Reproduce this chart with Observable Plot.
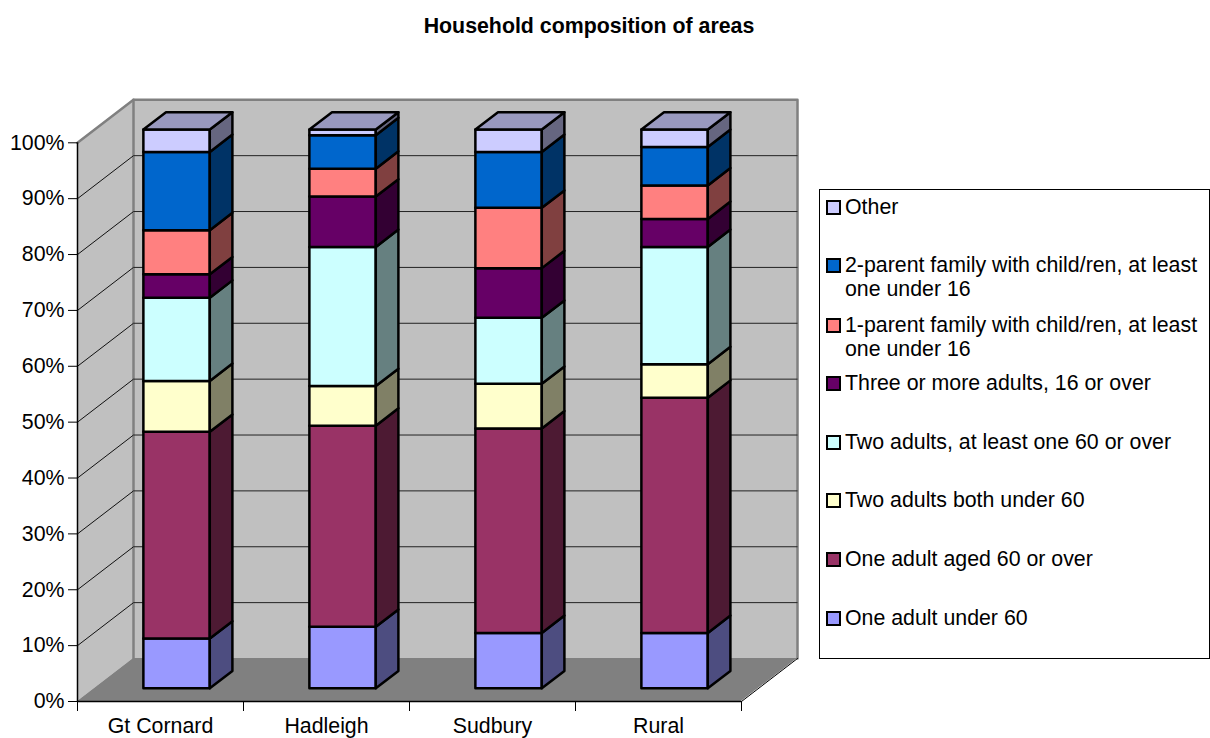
<!DOCTYPE html>
<html><head><meta charset="utf-8">
<script src="https://cdn.jsdelivr.net/npm/d3@7"></script>
<script src="https://cdn.jsdelivr.net/npm/@observablehq/plot@0.6"></script>
<style>
html,body{margin:0;padding:0;background:#fff;}
#root{position:relative;width:1210px;height:738px;overflow:hidden;font-family:"Liberation Sans",Arial,sans-serif;color:#000;}
#root svg{position:absolute;left:0;top:0;}
#title{position:absolute;z-index:2;left:0;width:1178px;top:14px;text-align:center;font-weight:bold;font-size:21.33px;line-height:24px;}
#legend{position:absolute;z-index:2;left:819px;top:189px;width:389px;height:468px;border:1px solid #000;background:#fff;}
.row{position:absolute;left:25px;font-size:21.33px;line-height:24px;width:360px;}
.sw{position:absolute;left:-19px;top:5px;width:11px;height:11px;border:2px solid #000;}
</style></head><body><div id="root"><div id="title">Household composition of areas</div></div>
<script>
const categories = ["Gt Cornard", "Hadleigh", "Sudbury", "Rural"];
const seriesNames = [
  "One adult under 60", "One adult aged 60 or over", "Two adults both under 60",
  "Two adults, at least one 60 or over", "Three or more adults, 16 or over",
  "1-parent family with child/ren, at least one under 16",
  "2-parent family with child/ren, at least one under 16", "Other"
];
const oneAdultUnder60 = [8.9, 11, 9.9, 9.9];
const oneAdult60Over = [37, 36, 36.6, 42.1];
const twoAdultsUnder60 = [9.1, 7.1, 8, 6];
const twoAdults60Over = [14.9, 24.9, 11.8, 21];
const threeOrMore = [4.2, 9, 8.9, 5];
const oneParent = [7.9, 5, 10.8, 6];
const twoParent = [14, 6, 10, 6.9];
const other = [4, 1, 4, 3.1];
const seriesValues = [oneAdultUnder60, oneAdult60Over, twoAdultsUnder60, twoAdults60Over, threeOrMore, oneParent, twoParent, other];
const frontColors = ["#9999FF", "#993366", "#FFFFCC", "#CCFFFF", "#660066", "#FF8080", "#0066CC", "#CCCCFF"];
const sideColors = ["#4D4D80", "#4D1A33", "#808066", "#668080", "#330033", "#804040", "#003366", "#666680"];
const topColor = "#9999BF";
const yTicks = [0, 10, 20, 30, 40, 50, 60, 70, 80, 90, 100];

// Oblique projection: depth d (0 front .. 1 back) shifts along x and y in data units
const depthX = 56 / 166, depthY = 43 / 5.587;
const barW = 0.4, d0 = 0.296, d1 = 0.70;
const px = (x, d) => x + d * depthX;
const py = (y, d) => y + d * depthY;

let k = 0;
function quad(a, b, c, e, fill) {
  const key = k++;
  return [
    {key, fill, x1: a[0], y1: a[1], x2: e[0], y2: e[1]},
    {key, fill, x1: b[0], y1: b[1], x2: c[0], y2: c[1]}
  ];
}
const P = (x, y, d) => [px(x, d), py(y, d)];

const bars = [];
categories.forEach((c, i) => {
  const L = i + 0.5 - barW / 2, R = i + 0.5 + barW / 2;
  let base = 0;
  seriesValues.forEach((vals, s) => {
    const top = base + vals[i];
    bars.push(...quad(P(L, base, d0), P(R, base, d0), P(R, top, d0), P(L, top, d0), frontColors[s]));
    bars.push(...quad(P(R, base, d0), P(R, base, d1), P(R, top, d1), P(R, top, d0), sideColors[s]));
    base = top;
  });
  bars.push(...quad(P(L, 100, d0), P(R, 100, d0), P(R, 100, d1), P(L, 100, d1), topColor));
});

const walls = [
  ...quad(P(0, 0, 0), P(0, 0, 1), P(0, 100, 1), P(0, 100, 0), "#C0C0C0"),
  ...quad(P(0, 0, 1), P(4, 0, 1), P(4, 100, 1), P(0, 100, 1), "#C0C0C0"),
  ...quad(P(0, 0, 0), P(4, 0, 0), P(4, 0, 1), P(0, 0, 1), "#808080")
];
const gridY = yTicks.slice(1, -1);
const area = (data, o) => Plot.area(data, {x1: "x1", y1: "y1", x2: "x2", y2: "y2", z: "key", fill: "fill", curve: "linear", ...o});
const lineOf = (pts, o) => Plot.line(pts, {x: d => d[0], y: d => d[1], ...o});

const chart = Plot.plot({
  width: 1210, height: 738,
  marginLeft: 77, marginRight: 469, marginTop: 142.3, marginBottom: 37,
  x: {domain: [0, 4]},
  y: {domain: [0, 100]},
  style: {fontFamily: '"Liberation Sans", Arial, sans-serif', fontSize: "21.33px", color: "#000", background: "#fff", overflow: "visible"},
  marks: [
    area(walls),
    lineOf([P(0, 100, 0), P(0, 100, 1), P(4, 100, 1), P(4, 0, 1)], {stroke: "#808080", strokeWidth: 2.5}),
    lineOf([P(0, 100, 1), P(0, 0, 1)], {stroke: "#808080", strokeWidth: 2.5}),
    Plot.link(gridY, {x1: 0, y1: d => d, x2: depthX, y2: d => d + depthY, stroke: "#111", strokeWidth: 1}),
    Plot.link(gridY, {x1: depthX, y1: d => d + depthY, x2: 4 + depthX, y2: d => d + depthY, stroke: "#222", strokeWidth: 1}),
    lineOf([P(4, 0, 0), P(4, 0, 1)], {stroke: "#000", strokeWidth: 1}),
    area(bars, {stroke: "#000", strokeWidth: 2.5, strokeLinejoin: "round"}),
    Plot.ruleX([0], {y1: 0, y2: 100, stroke: "#000", strokeWidth: 1.5}),
    Plot.ruleY([0], {x1: 0, x2: 4, stroke: "#000", strokeWidth: 1.5}),
    Plot.axisY({ticks: yTicks, tickFormat: d => d + "%", tickSize: 9, tickPadding: 4, label: null}),
    Plot.axisX({ticks: [0, 1, 2, 3, 4], tickFormat: () => "", tickSize: 10, label: null}),
    Plot.axisX({ticks: categories.map((c, i) => i + 0.5), tickFormat: d => categories[d - 0.5], tickSize: 0, tickPadding: 16, label: null})
  ]
});
const root = document.getElementById("root");
root.appendChild(chart);

const legend = document.createElement("div");
legend.id = "legend";
const rowTops = [5, 63, 123, 181, 240, 298, 357, 416];
[...seriesNames].reverse().forEach((name, j) => {
  const s = seriesNames.length - 1 - j;
  const row = document.createElement("div");
  row.className = "row";
  row.style.top = rowTops[j] + "px";
  const sw = document.createElement("div");
  sw.className = "sw";
  sw.style.background = frontColors[s];
  row.appendChild(sw);
  row.appendChild(document.createTextNode(name));
  legend.appendChild(row);
});
root.appendChild(legend);
</script></body></html>
